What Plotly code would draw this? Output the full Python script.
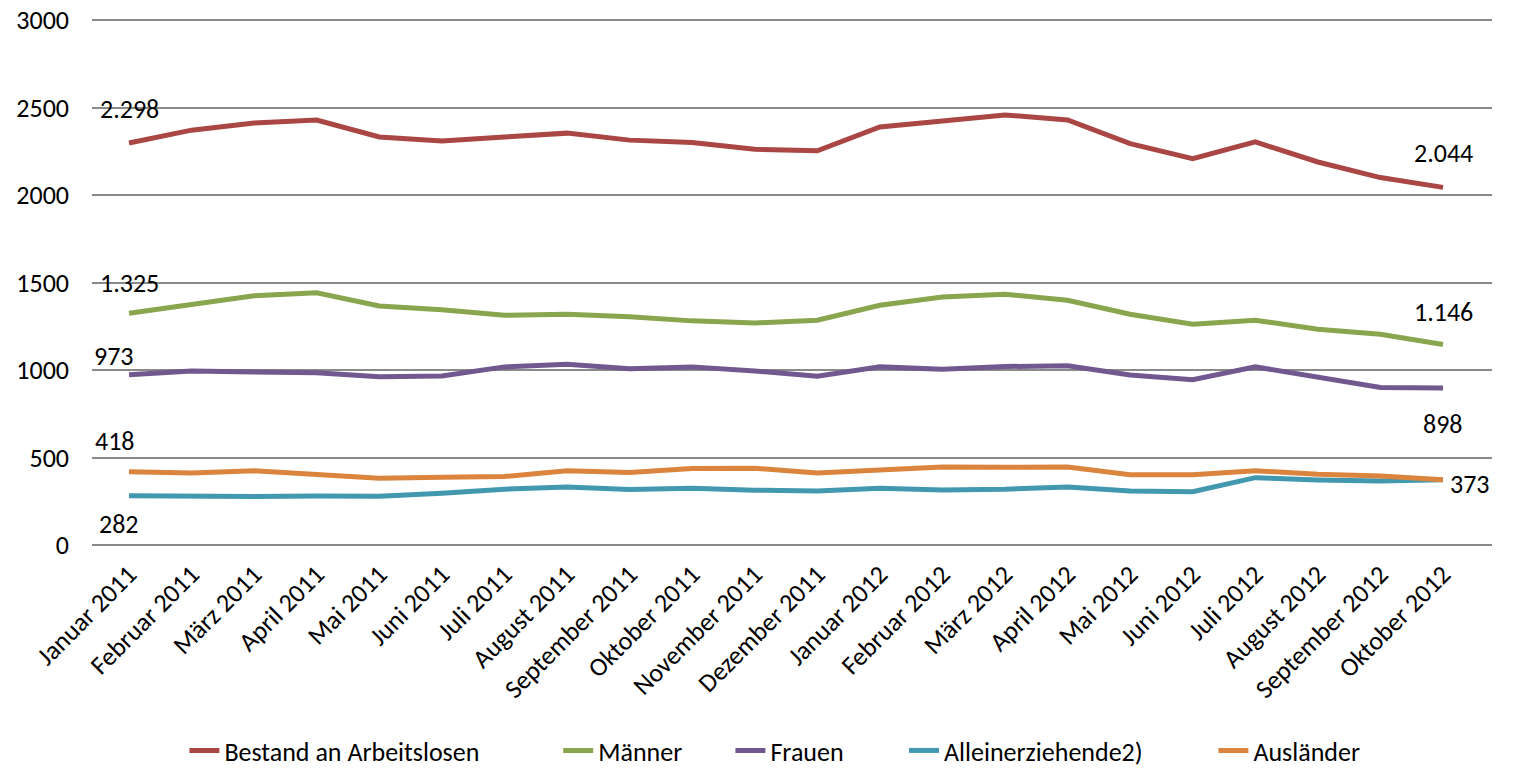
import plotly.graph_objects as go

months = ["Januar 2011", "Februar 2011", "März 2011", "April 2011", "Mai 2011", "Juni 2011",
          "Juli 2011", "August 2011", "September 2011", "Oktober 2011", "November 2011",
          "Dezember 2011", "Januar 2012", "Februar 2012", "März 2012", "April 2012", "Mai 2012",
          "Juni 2012", "Juli 2012", "August 2012", "September 2012", "Oktober 2012"]

bestand = [2298, 2371, 2412, 2429, 2332, 2309, 2332, 2354, 2314, 2300, 2262, 2253,
           2389, 2424, 2458, 2429, 2294, 2208, 2304, 2189, 2100, 2044]
maenner = [1325, 1376, 1424, 1441, 1366, 1344, 1313, 1319, 1305, 1281, 1269, 1285,
           1370, 1418, 1433, 1399, 1319, 1262, 1285, 1233, 1205, 1146]
frauen = [973, 995, 989, 985, 962, 966, 1018, 1033, 1008, 1018, 995, 964,
          1018, 1005, 1020, 1025, 972, 945, 1018, 961, 900, 898]
alleinerz = [282, 277, 277, 280, 279, 296, 319, 332, 317, 325, 313, 309,
             325, 315, 319, 332, 309, 305, 385, 372, 366, 373]
auslaender = [418, 412, 424, 405, 382, 387, 391, 424, 414, 437, 439, 412,
              431, 446, 444, 446, 401, 401, 424, 405, 395, 373]

y_ticks = [0, 500, 1000, 1500, 2000, 2500, 3000]

series_names = ["Bestand an Arbeitslosen", "Männer", "Frauen", "Alleinerziehende2)", "Ausländer"]
series_values = [bestand, maenner, frauen, alleinerz, auslaender]
colors = ["#AA4643", "#89A54E", "#71588F", "#4198AF", "#DB843D"]

# label offsets (px) for first / last point of each series
label_shifts = [
    ((0, 34), (0, 34)),
    ((0, 30), (0, 32)),
    ((-15, 19), (0, -36)),
    ((-10, -28), None),
    ((-14, 31), (27, -4)),
]

# horizontal legend positions (paper fraction) for each series
legend_x = [0.066, 0.333, 0.456, 0.580, 0.801]

FONT = "Calibri, Carlito, 'Noto Sans', sans-serif"
FS = 26

def fmt(v):
    return f"{v:,}".replace(",", ".")

fig = go.Figure()
legend_layout = {}
for i, (name, vals, col) in enumerate(zip(series_names, series_values, colors)):
    lname = "legend" if i == 0 else f"legend{i + 1}"
    fig.add_trace(go.Scatter(x=months, y=vals, name=name, mode="lines",
                             line=dict(color=col, width=5), hoverinfo="x+y",
                             legend=lname))
    legend_layout[lname] = dict(orientation="h", x=legend_x[i], xanchor="left",
                                y=-0.39, yanchor="middle", bgcolor="rgba(0,0,0,0)",
                                font=dict(size=FS, family=FONT, color="#000000"))

annotations = []
for vals, shifts in zip(series_values, label_shifts):
    for idx, sh in zip((0, len(vals) - 1), shifts):
        if sh is None:
            continue
        annotations.append(dict(x=months[idx], y=vals[idx], text=fmt(vals[idx]),
                                showarrow=False, xshift=sh[0], yshift=sh[1],
                                font=dict(size=FS, color="#000000", family=FONT)))

fig.update_layout(
    width=1516, height=768,
    margin=dict(l=92, r=24, t=18, b=223, autoexpand=False),
    plot_bgcolor="white", paper_bgcolor="white",
    font=dict(family=FONT, size=FS, color="#000000"),
    annotations=annotations,
    showlegend=True,
    xaxis=dict(type="category", tickangle=-45, showgrid=False, ticks="",
               showline=False, automargin=False, ticklabelstandoff=8,
               tickfont=dict(size=FS, family=FONT)),
    yaxis=dict(range=[0, 3012], tickvals=y_ticks,
               showgrid=True, gridcolor="#8a8a8a",
               gridwidth=2, zeroline=True, zerolinecolor="#8a8a8a", zerolinewidth=2,
               ticks="", ticklabelstandoff=22, automargin=False,
               tickfont=dict(size=FS, family=FONT), fixedrange=True),
    **legend_layout,
)

fig.write_html("out.html")
